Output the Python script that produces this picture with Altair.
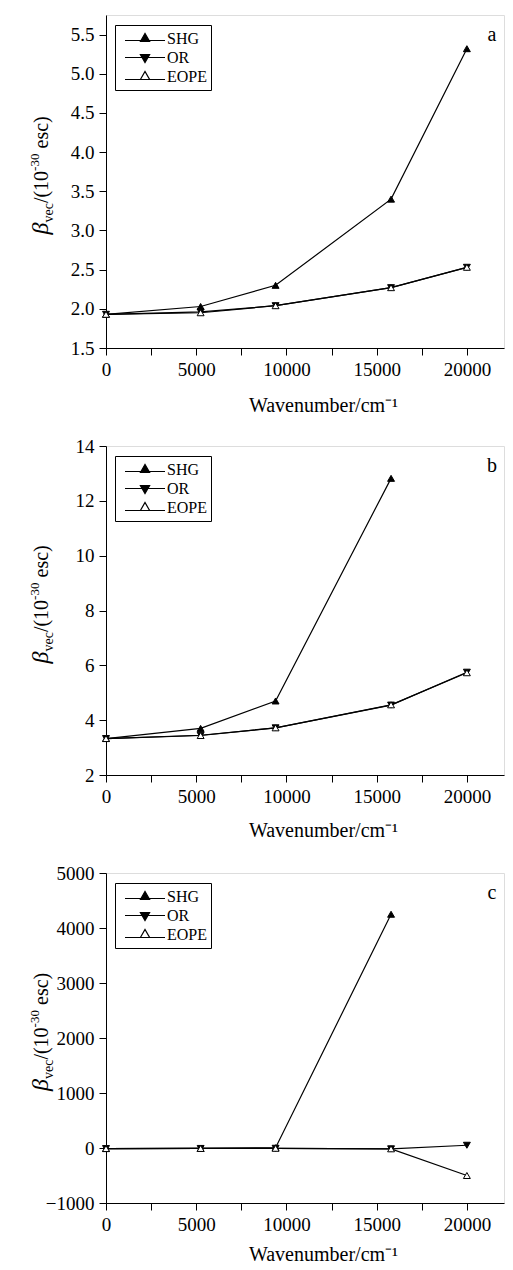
import altair as alt
import pandas as pd

FONT = "Liberation Serif"

wavenumber = [0, 5244, 9398, 15798, 20000]
series = ["SHG", "OR", "EOPE"]

# panel a
a_shg = [1.93, 2.03, 2.30, 3.40, 5.32]
a_or = [1.93, 1.96, 2.04, 2.27, 2.53]
a_eope = [1.93, 1.95, 2.04, 2.27, 2.53]
# panel b
b_shg = [3.33, 3.70, 4.70, 12.82]
b_or = [3.33, 3.45, 3.72, 4.55, 5.75]
b_eope = [3.33, 3.44, 3.72, 4.56, 5.73]
# panel c
c_shg = [-10, -8, 5, 4250]
c_or = [-10, -8, -5, -15, 50]
c_eope = [-10, -8, -5, -15, -500]

a_ticks = [1.5, 2.0, 2.5, 3.0, 3.5, 4.0, 4.5, 5.0, 5.5]
b_ticks = [2, 4, 6, 8, 10, 12, 14]
c_ticks = [-1000, 0, 1000, 2000, 3000, 4000, 5000]
x_ticks = [0, 2500, 5000, 7500, 10000, 12500, 15000, 17500, 20000]

legend_paths = [
    "M-1,0.1H1M-0.23,0.15L0,-0.25L0.23,0.15Z",
    "M-1,0H1M-0.23,-0.15L0.23,-0.15L0,0.25Z",
    "M-1,0.15H-0.23M0.23,0.15H1M-0.23,0.15L0,-0.25L0.23,0.15Z",
]

W = 398
X_MAX = 22057  # keeps the reference's pixels-per-unit with the narrower frame


def panel(shg, orv, eope, ydomain, yticks, yfmt, letter, h, title_y):
    rows = []
    for s, vals in zip(series, [shg, orv, eope]):
        for w, v in zip(wavenumber, vals):
            rows.append({"wn": w, "val": v, "series": s})
    df = pd.DataFrame(rows)

    x = alt.X(
        "wn:Q",
        scale=alt.Scale(domain=[0, X_MAX], nice=False, zero=False),
        axis=alt.Axis(
            values=x_ticks,
            labelExpr="datum.value % 5000 == 0 ? format(datum.value, 'd') : ''",
            title="Wavenumber/cm⁻¹",
            titleX=217,
            titleY=title_y,
            titleAlign="center",
            titleBaseline="middle",
            titleFont=FONT,
            titleFontSize=20,
            titleFontWeight="normal",
            titleColor="black",
            labelFont=FONT,
            labelFontSize=19,
            labelColor="black",
            labelPadding=5,
            tickSize=7,
            tickColor="black",
            domainColor="black",
            grid=False,
            labelFlush=False,
            labelOverlap=False,
        ),
    )
    y = alt.Y(
        "val:Q",
        scale=alt.Scale(domain=ydomain, nice=False, zero=False),
        axis=alt.Axis(
            values=yticks,
            format=yfmt,
            title=None,
            labelFont=FONT,
            labelFontSize=19,
            labelColor="black",
            labelPadding=5,
            tickSize=7,
            tickColor="black",
            domainColor="black",
            grid=False,
            labelFlush=False,
            labelOverlap=False,
        ),
    )

    base = alt.Chart(df)
    lines = base.mark_line(color="black", strokeWidth=1.2).encode(
        x=x, y=y, detail="series:N", order="wn:Q"
    )
    points = base.mark_point(stroke="black", strokeWidth=1, size=48, opacity=1).encode(
        x=x,
        y=y,
        shape=alt.Shape(
            "series:N",
            scale=alt.Scale(domain=series, range=["triangle-up", "triangle-down", "triangle-up"]),
            legend=None,
        ),
        fill=alt.Fill(
            "series:N",
            scale=alt.Scale(domain=series, range=["black", "black", "white"]),
            legend=None,
        ),
    )
    leg = alt.Legend(
        title=None,
        orient="none",
        legendX=9,
        legendY=10,
        direction="vertical",
        strokeColor="black",
        fillColor="white",
        padding=4,
        cornerRadius=0,
        labelFont=FONT,
        labelFontSize=16,
        labelColor="black",
        labelOffset=1,
        labelBaseline="middle",
        symbolSize=1600,
        symbolOffset=5,
        symbolStrokeWidth=1.2,
        symbolOpacity=1,
        clipHeight=19,
        rowPadding=0,
        labelLimit=0,
    )
    # legend-only layer: no rows drawn, the legend comes from the explicit scale domains
    legend_layer = base.transform_filter("false").mark_point(
        strokeOpacity=1, fillOpacity=1, opacity=1
    ).encode(
        x=x,
        y=y,
        shape=alt.Shape("series:N", scale=alt.Scale(domain=series, range=legend_paths), legend=leg),
        fill=alt.Fill("series:N", scale=alt.Scale(domain=series, range=["black", "black", "white"]), legend=leg),
        stroke=alt.Stroke("series:N", scale=alt.Scale(domain=series, range=["black", "black", "black"]), legend=leg),
    )

    letter_layer = alt.Chart(pd.DataFrame({"t": [letter]})).mark_text(
        font=FONT, fontSize=20, color="black", align="center", baseline="middle"
    ).encode(text="t:N", x=alt.value(386), y=alt.value(20))

    # y-axis title pieces: beta_vec/(10^-30 esc)
    y0 = h / 2 - 8 + 61
    pieces = [
        ("β", 24, "italic", -58, 0),
        ("vec", 14, "normal", -53, 12),
        ("/(10", 20, "normal", -58, 31.4),
        ("-30", 13, "normal", -67, 63.6),
        ("esc)", 20, "normal", -58, 86),
    ]
    title_layers = []
    for txt, fs, style, xr, off in pieces:
        title_layers.append(
            alt.Chart(pd.DataFrame({"t": [txt]})).mark_text(
                font=FONT, fontSize=fs, fontStyle=style, color="black",
                align="left", baseline="alphabetic", angle=270,
            ).encode(text="t:N", x=alt.value(xr), y=alt.value(y0 - off))
        )

    return alt.layer(lines, points, legend_layer, letter_layer, *title_layers).resolve_scale(
        shape="independent", fill="independent", stroke="independent"
    ).properties(width=W, height=h)


pa = panel(a_shg, a_or, a_eope, [1.5, 5.75], a_ticks, ".1f", "a", 333, 57)
pb = panel(b_shg, b_or, b_eope, [2, 14], b_ticks, "d", "b", 329, 55)
pc = panel(c_shg, c_or, c_eope, [-1000, 5000], c_ticks, "d", "c", 330, 51)

chart = alt.vconcat(pa, pb, pc, spacing=98, bounds="flush").properties(
    padding={"left": 20, "top": 6, "right": 0, "bottom": 0}
).configure_view(stroke="black", strokeWidth=1).configure(background="white")

chart.save("out.html", embed_options={"renderer": "svg", "actions": False})
